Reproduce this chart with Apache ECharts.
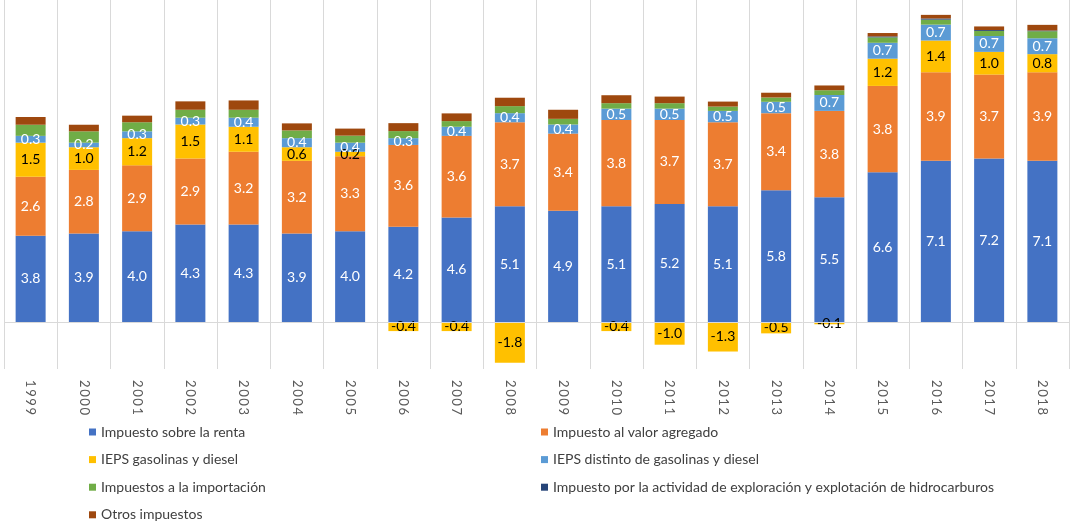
<!DOCTYPE html>
<html>
<head>
<meta charset="utf-8">
<script src="https://cdn.jsdelivr.net/npm/echarts@6/dist/echarts.min.js"></script>
<style>
  html, body { margin: 0; padding: 0; background: #fff; }
  #chart { width: 1070px; height: 523px; }
</style>
</head>
<body>
<div id="chart"></div>
<script>
// Ingresos tributarios por tipo de impuesto, 1999-2018 (% del PIB)
const years = ['1999','2000','2001','2002','2003','2004','2005','2006','2007','2008',
               '2009','2010','2011','2012','2013','2014','2015','2016','2017','2018'];

const renta        = [3.8, 3.9, 4.0, 4.3, 4.3, 3.9, 4.0, 4.2, 4.6, 5.1, 4.9, 5.1, 5.2, 5.1, 5.8, 5.5, 6.6, 7.1, 7.2, 7.1];
const iva          = [2.6, 2.8, 2.9, 2.9, 3.2, 3.2, 3.3, 3.6, 3.6, 3.7, 3.4, 3.8, 3.7, 3.7, 3.4, 3.8, 3.8, 3.9, 3.7, 3.9];
const iepsGas      = [1.5, 1.0, 1.2, 1.5, 1.1, 0.6, 0.2, -0.4, -0.4, -1.8, null, -0.4, -1.0, -1.3, -0.5, -0.1, 1.2, 1.4, 1.0, 0.8];
const iepsOtros    = [0.3, 0.2, 0.3, 0.3, 0.4, 0.4, 0.4, 0.3, 0.4, 0.4, 0.4, 0.5, 0.5, 0.5, 0.5, 0.7, 0.7, 0.7, 0.7, 0.7];
const importacion  = [0.49, 0.50, 0.40, 0.35, 0.35, 0.34, 0.31, 0.31, 0.25, 0.31, 0.25, 0.24, 0.24, 0.19, 0.19, 0.21, 0.24, 0.22, 0.22, 0.31];
const hidrocarburos= [null, null, null, null, null, null, null, null, null, null, null, null, null, null, null, null, 0.04, 0.05, 0.04, 0.03];
const otros        = [0.34, 0.29, 0.29, 0.37, 0.41, 0.31, 0.31, 0.35, 0.34, 0.37, 0.40, 0.35, 0.29, 0.22, 0.21, 0.21, 0.15, 0.16, 0.16, 0.25];

const names = [
  'Impuesto sobre la renta',
  'Impuesto al valor agregado',
  'IEPS gasolinas y diesel',
  'IEPS distinto de gasolinas y diesel',
  'Impuestos a la importación',
  'Impuesto por la actividad de exploración y explotación de hidrocarburos',
  'Otros impuestos'
];
const colors = ['#4472C4', '#ED7D31', '#FFC000', '#5B9BD5', '#70AD47', '#264478', '#9E480E'];
const values = [renta, iva, iepsGas, iepsOtros, importacion, hidrocarburos, otros];
const labelColors = ['#ffffff', '#ffffff', '#000000', '#ffffff', null, null, null];

const FONT = 'Lato, "Liberation Sans", sans-serif';

const series = values.map((data, i) => {
  const s = {
    name: names[i],
    type: 'bar',
    stack: 'total',
    barWidth: 30,
    data: data,
    itemStyle: { color: colors[i] },
    emphasis: { disabled: true },
    label: labelColors[i] ? {
      show: true,
      position: 'inside',
      color: labelColors[i],
      fontFamily: FONT,
      fontSize: 14,
      formatter: p => (p.value == null ? '' : Number(p.value).toFixed(1))
    } : { show: false }
  };
  if (i === 0) {
    // línea del cero
    s.markLine = {
      silent: true,
      symbol: 'none',
      label: { show: false },
      lineStyle: { color: '#d9d9d9', width: 1, type: 'solid' },
      data: [{ yAxis: 0 }]
    };
  }
  return s;
});

const legendBase = {
  orient: 'vertical',
  top: 425,
  height: 98,
  padding: 0,
  icon: 'rect',
  itemWidth: 7,
  itemHeight: 7,
  itemGap: 13.6,
  selectedMode: false,
  textStyle: { fontFamily: FONT, fontSize: 14, color: '#404040', lineHeight: 14 }
};

const chart = echarts.init(document.getElementById('chart'));
chart.setOption({
  animation: false,
  color: colors,
  grid: { left: 4, top: 0, width: 1065, height: 369, containLabel: false },
  xAxis: {
    type: 'category',
    data: years,
    axisLine: { show: false, onZero: false },
    axisTick: { show: false },
    splitLine: { show: true, lineStyle: { color: '#d9d9d9', width: 1 } },
    axisLabel: {
      rotate: -90,
      margin: 11,
      color: '#595959',
      fontFamily: FONT,
      fontSize: 13,
      formatter: v => v.split('').join('\u2009')
    }
  },
  yAxis: {
    type: 'value',
    min: -2.07,
    max: 14.185,
    show: false,
    splitLine: { show: false }
  },
  legend: [
    Object.assign({}, legendBase, { left: 89, data: [names[0], names[2], names[4], names[6]] }),
    Object.assign({}, legendBase, { left: 541, data: [names[1], names[3], names[5]] })
  ],
  series: series
});
</script>
</body>
</html>
